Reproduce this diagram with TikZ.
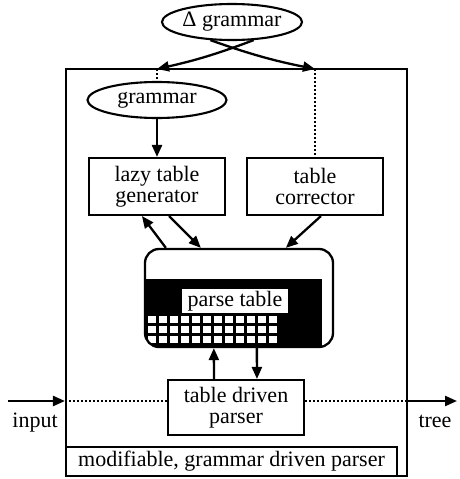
\documentclass[tikz,border=0pt]{standalone}
\usepackage{fontspec}
\setmainfont{Liberation Serif}
\usetikzlibrary{arrows.meta,calc,shapes.geometric}
\begin{document}
\begin{tikzpicture}[x=1pt,y=-1pt,
  every node/.style={font=\fontsize{22}{21}\selectfont, inner sep=0pt},
  oval/.style={draw, ellipse, line width=2.1pt},
  unit/.style={draw, rectangle, line width=2.1pt, align=center},
  flow/.style={line width=2.3pt, -{Triangle[length=12pt,width=10pt]}},
  dotline/.style={line width=1.8pt, dash pattern=on 1.8pt off 2.2pt}]
\useasboundingbox (0,0) rectangle (460,479);

% enclosing parser box
\node[draw, line width=2.1pt, minimum width=341pt, minimum height=407pt] (outer) at (236.5,272.5) {};

% grammar sources
\node[oval, minimum width=129pt, minimum height=36pt] (dg) at (232,22) {Δ grammar};
\node[oval, minimum width=139pt, minimum height=36pt] (gram) at (157,100) {grammar};

% generator and corrector
\node[unit, minimum width=136pt, minimum height=57pt] (gen) at (157,186.5) {lazy table\\generator};
\node[unit, minimum width=136pt, minimum height=57pt] (corr) at (315,186.5) {table\\corrector};

% parse table: black band with a white cell grid
\begin{scope}
  \clip[rounded corners=14pt] (145,249) rectangle (333,347);
  \fill (145,279) rectangle (322,347);
  \foreach \i in {0,...,11}
    \foreach \j in {0,1,2}
      \fill[white] ({148+\i*11},{316+\j*10}) rectangle +(7.5,7);
\end{scope}
\node[draw, rounded corners=14pt, line width=2.3pt, minimum width=188pt, minimum height=98pt] (pt) at (239,298) {};
\node[fill=white, inner xsep=6pt, inner ysep=2pt] (ptl) at (235,301) {parse table};

% parser
\node[unit, minimum width=136pt, minimum height=55pt] (tdp) at (236,407.5) {table driven\\parser};

% caption strip
\node[draw, line width=2.1pt, minimum width=331pt, minimum height=29pt] (modl) at (231.5,461.5) {modifiable, grammar driven parser};

% delta grammar feeds into the box
\coordinate (gtop) at (157,69);
\coordinate (ctop) at (315,69);
\draw[flow] (dg.-40) to[bend left=4] (gtop);
\draw[flow] (dg.-140) to[bend right=4] (ctop);
\draw[dotline] (gtop) -- (gram.north);
\draw[dotline] (ctop) -- (corr.north);

% internal connections
\draw[flow] (gram.south) -- (gen.north);
\draw[flow] ($(pt.north west)+(22,0)$) -- ($(gen.south west)+(54,0)$);
\draw[flow] ($(gen.south west)+(81,0)$) -- ($(pt.north west)+(57,0)$);
\draw[flow] ($(corr.south west)+(75,0)$) -- ($(pt.north west)+(142,0)$);
\draw[flow] ($(tdp.north west)+(47,0)$) -- ($(pt.south west)+(70,0)$);
\draw[flow] ($(pt.south west)+(113,0)$) -- ($(tdp.north west)+(90,0)$);

% input and output stream
\coordinate (inS) at (8,401);
\coordinate (outS) at (457,401);
\draw[flow] (inS) -- (inS -| outer.west);
\draw[dotline] (inS -| outer.west) -- (inS -| tdp.west);
\draw[dotline] (inS -| tdp.east) -- (inS -| outer.east);
\draw[flow] (inS -| outer.east) -- (outS);
\node[anchor=base] (inlab) at (35,427) {input};
\node[anchor=base] (outlab) at (435,427) {tree};
\end{tikzpicture}
\end{document}
